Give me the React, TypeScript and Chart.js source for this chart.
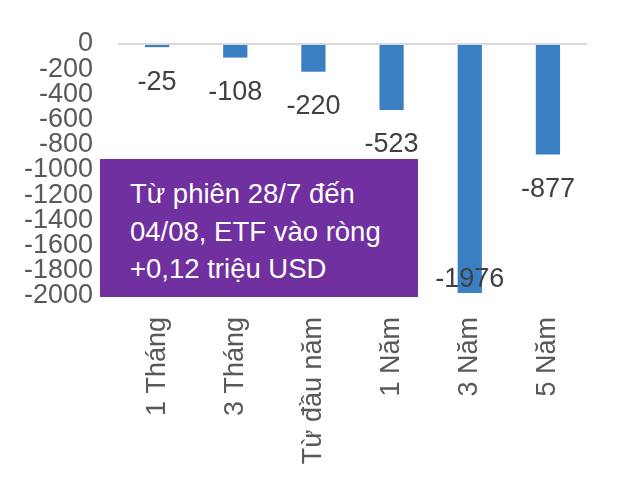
import React, { useEffect, useRef } from "react";
import { Chart, registerables } from "chart.js";

Chart.register(...registerables);

const categories = ["1 Tháng", "3 Tháng", "Từ đầu năm", "1 Năm", "3 Năm", "5 Năm"];
const values = [-25, -108, -220, -523, -1976, -877];
const boxLines = ["Từ phiên 28/7 đến", "04/08, ETF vào ròng", "+0,12 triệu USD"];

const FONT = "'Liberation Sans', Arial, sans-serif";

const valueLabels = {
  id: "valueLabels",
  afterDatasetsDraw(chart: any) {
    const ctx = chart.ctx;
    const meta = chart.getDatasetMeta(0);
    const area = chart.chartArea;
    ctx.save();
    ctx.font = `27px ${FONT}`;
    ctx.fillStyle = "#404040";
    ctx.textAlign = "center";
    ctx.textBaseline = "middle";
    meta.data.forEach((bar: any, i: number) => {
      const y = Math.min(bar.y + 35, area.bottom - 16);
      ctx.fillText(String(values[i]), bar.x, y);
    });
    ctx.restore();
  },
};

export default function App() {
  const ref = useRef<HTMLCanvasElement | null>(null);
  useEffect(() => {
    if (!ref.current) return;
    const chart = new Chart(ref.current, {
      type: "bar",
      data: {
        labels: categories,
        datasets: [
          {
            data: values,
            backgroundColor: "#3A7FC1",
            barPercentage: 0.62,
            categoryPercentage: 0.5,
          },
        ],
      },
      options: {
        animation: false,
        responsive: false,
        maintainAspectRatio: false,
        layout: { padding: { top: 44, right: 53, left: 0, bottom: 0 } },
        plugins: { legend: { display: false }, tooltip: { enabled: false } },
        scales: {
          x: {
            grid: { display: false },
            border: { display: false },
            ticks: {
              color: "#595959",
              font: { family: FONT, size: 27 },
              minRotation: 90,
              maxRotation: 90,
              padding: 13,
              autoSkip: false,
            },
            afterFit(scale: any) {
              scale.height = 196;
            },
          },
          y: {
            min: -2000,
            max: 0,
            grid: {
              drawTicks: false,
              color: (c: any) => (c.tick && c.tick.value === 0 ? "#d9d9d9" : "rgba(0,0,0,0)"),
              lineWidth: 2,
            },
            border: { display: false },
            ticks: {
              stepSize: 200,
              autoSkip: false,
              color: "#595959",
              font: { family: FONT, size: 27 },
              padding: 25,
              callback: (v: any) => String(v),
            },
            afterFit(scale: any) {
              scale.width = 118;
            },
          },
        },
      },
      plugins: [valueLabels],
    });
    return () => chart.destroy();
  }, []);

  return (
    <div style={{ position: "absolute", left: 0, top: 0, width: 640, height: 492, background: "#fff" }}>
      <canvas ref={ref} width={640} height={492} style={{ width: 640, height: 492 }} />
      <div
        style={{
          position: "absolute",
          left: 100,
          top: 159,
          width: 318,
          height: 138,
          background: "#7030A0",
          color: "#fff",
          fontFamily: FONT,
          fontSize: 27.5,
          lineHeight: "37.5px",
          boxSizing: "border-box",
          padding: "16px 0 0 30px",
          whiteSpace: "nowrap",
        }}
      >
        {boxLines.map((l) => (
          <div key={l}>{l}</div>
        ))}
      </div>
    </div>
  );
}
